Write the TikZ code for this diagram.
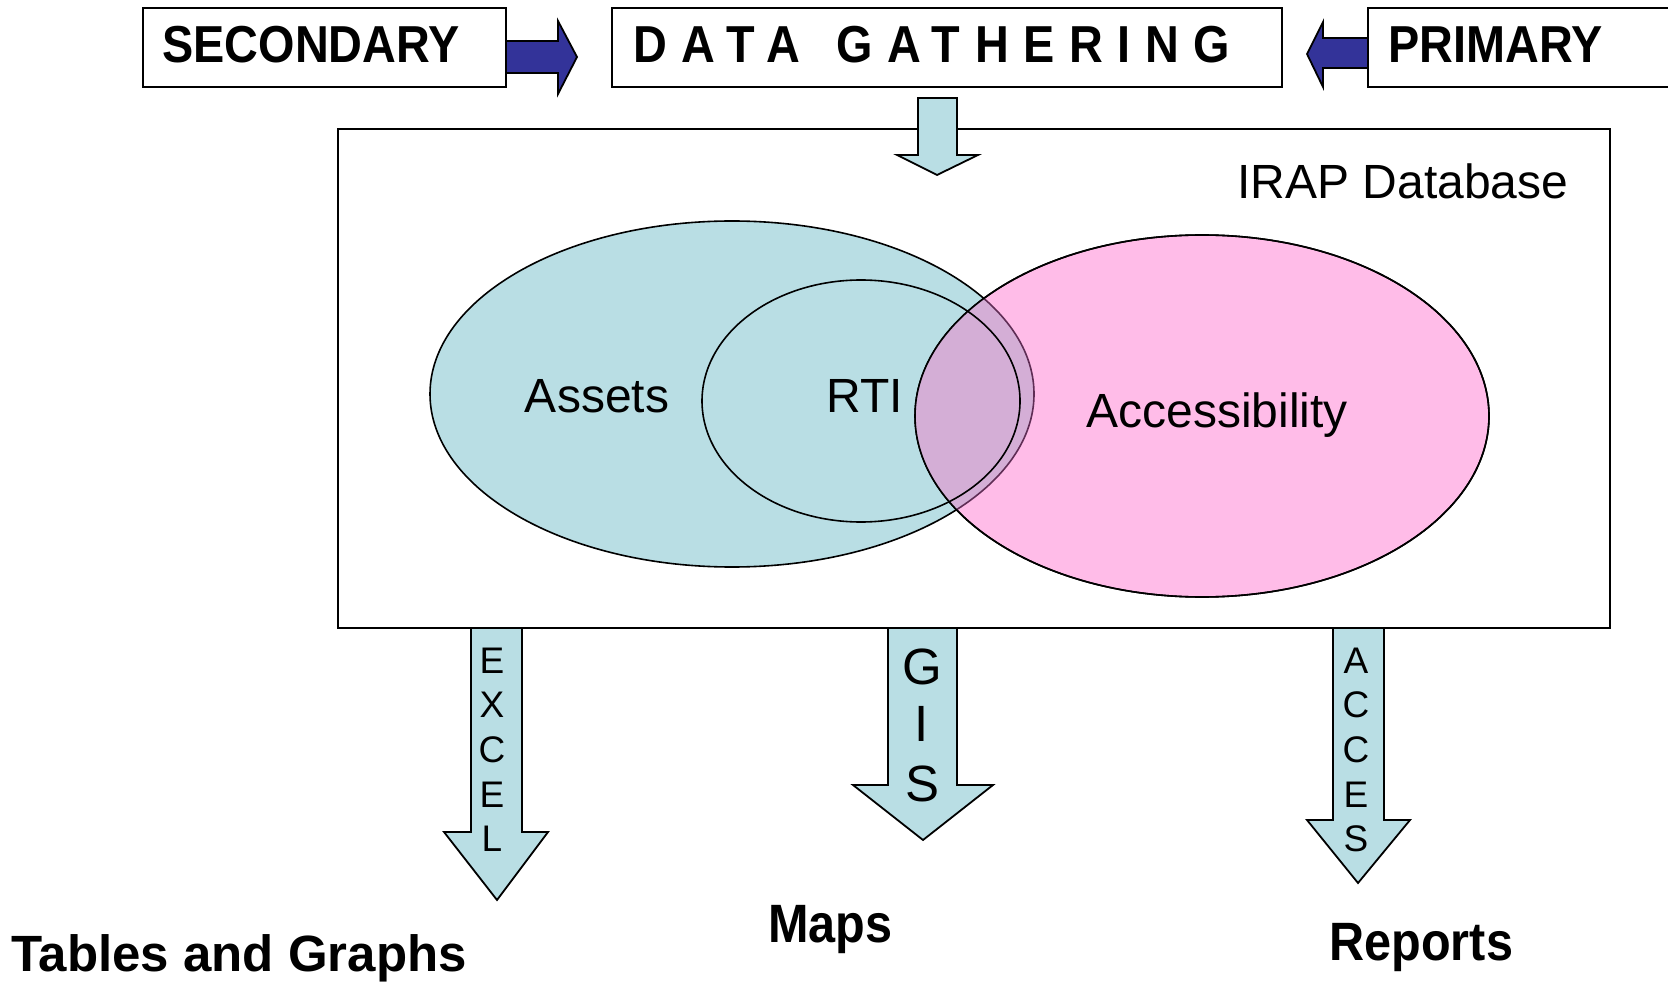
\documentclass[tikz,border=0pt]{standalone}
\usepackage{fontspec}
\setmainfont{Liberation Sans}
\newfontfamily\narrowsf{Liberation Sans}[FakeStretch=0.9]

\definecolor{dbblue}{RGB}{185,222,228}
\definecolor{dbpink}{RGB}{255,188,232}
\definecolor{dblilac}{RGB}{212,174,214}
\definecolor{dbplum}{RGB}{95,45,85}
\definecolor{feedblue}{RGB}{51,51,153}

\begin{document}
\begin{tikzpicture}[x=0.5pt,y=-0.5pt,
	frame/.style={draw, line width=1pt},
	blockarrow/.style={draw, line width=0.9pt, line join=miter},
	txt/.style={inner sep=0pt, anchor=base},
	headline/.style={txt, anchor=base west, font=\narrowsf\bfseries\fontsize{26}{30}\selectfont},
	setname/.style={txt, font=\fontsize{24}{28}\selectfont},
	outlabel/.style={txt, anchor=base west, font=\narrowsf\bfseries\fontsize{27}{31}\selectfont},
	letter/.style={inner sep=0pt, font=\fontsize{18.5}{22}\selectfont}]
	\useasboundingbox (0,0) rectangle (1668,983);
	
	% sources on top
	\draw[frame] (143,8) rectangle (506,87);
	\draw[frame] (612,8) rectangle (1282,87);
	\draw[frame] (1668,8) -- (1368,8) -- (1368,87) -- (1668,87);
	\node[headline] (secondary) at (162,63) {SECONDARY};
	\node[headline] (gathering) at (633,63) {\addfontfeature{LetterSpace=28}DATA\hspace{18pt}GATHERING};
	\node[headline] (primary) at (1388,63) {PRIMARY};
	
	\filldraw[blockarrow, fill=feedblue] (506,41) -- (558,41) -- (558,21) -- (577,57)
		-- (558,94) -- (558,73) -- (506,73) -- cycle;
	\filldraw[blockarrow, fill=feedblue] (1368,38) -- (1323,38) -- (1323,22) -- (1307,54)
		-- (1323,87) -- (1323,68) -- (1368,68) -- cycle;
	
	% database frame
	\draw[frame] (338,129) rectangle (1610,628);
	\node[txt, anchor=base west, font=\fontsize{24}{28}\selectfont] (irap) at (1237,199) {IRAP Database};
	
	% sets
	\filldraw[fill=dbblue, line width=0.8pt] (732,394) ellipse (302 and 173);
	\filldraw[fill=dbpink, line width=0.8pt] (1202,416) ellipse (287 and 181);
	\begin{scope}
		\clip (1202,416) ellipse (287 and 181);
		\fill[dblilac] (732,394) ellipse (302 and 173);
		\draw[dbplum, line width=0.8pt] (732,394) ellipse (302 and 173);
	\end{scope}
	\draw[line width=0.8pt] (1202,416) ellipse (287 and 181);
	\draw[line width=0.8pt] (861,401) ellipse (159 and 121);
	
	\node[setname] (assets) at (597,413) {Assets};
	\node[setname] (rti) at (865,413) {RTI};
	\node[setname] (access) at (1217,428) {Accessibility};
	
	% input arrow
	\filldraw[blockarrow, fill=dbblue] (918,98) -- (957,98) -- (957,155) -- (978,155)
		-- (937,175) -- (897,155) -- (918,155) -- cycle;
	
	% output arrows
	\filldraw[blockarrow, fill=dbblue] (471,628) -- (522,628) -- (522,832) -- (548,832)
		-- (497,900) -- (444,832) -- (471,832) -- cycle;
	\filldraw[blockarrow, fill=dbblue] (888,628) -- (957,628) -- (957,785) -- (993,785)
		-- (923,840) -- (853,785) -- (888,785) -- cycle;
	\filldraw[blockarrow, fill=dbblue] (1333,628) -- (1384,628) -- (1384,820) -- (1410,820)
		-- (1358,883) -- (1307,820) -- (1333,820) -- cycle;
	
	\foreach \l/\y [count=\i] in {E/661, X/705, C/750, E/795, L/839}
		\node[letter] (excel\i) at (492,\y) {\l};
	\foreach \l/\y [count=\i] in {G/667, I/724, S/784}
		\node[letter, font=\fontsize{25.5}{30}\selectfont] (gis\i) at (922,\y) {\l};
	\foreach \l/\y [count=\i] in {A/661, C/705, C/750, E/795, S/839}
		\node[letter] (acces\i) at (1356,\y) {\l};
	
	\node[txt, anchor=base west, font=\bfseries\fontsize{25.5}{30}\selectfont] (tables) at (11,971) {Tables and Graphs};
	\node[outlabel] (maps) at (768,942) {Maps};
	\node[outlabel] (reports) at (1329,960) {Reports};
\end{tikzpicture}
\end{document}
